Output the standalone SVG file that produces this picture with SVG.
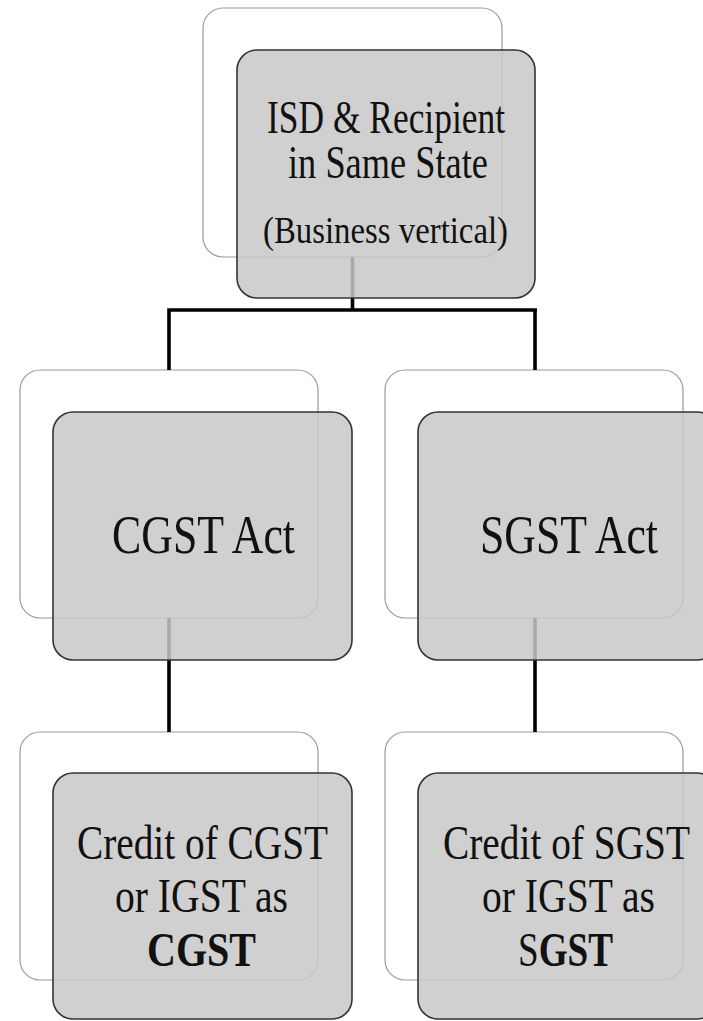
<svg xmlns="http://www.w3.org/2000/svg" width="703" height="1021" viewBox="0 0 703 1021">
<style>
.back{fill:#ffffff;stroke:#9a9a9a;stroke-width:1.2}
.front{fill:#c8c8c8;fill-opacity:0.85;stroke:#333333;stroke-width:1.6}
.conn{fill:none;stroke:#000000;stroke-width:3.6}
text{font-family:"Liberation Serif","Times New Roman",serif;fill:#111111;text-anchor:middle}
.b{font-weight:bold}
.n{font-weight:normal}
</style>
<rect width="703" height="1021" fill="#ffffff"/>
<g id="back-boxes">
<rect class="back" x="203" y="8" width="299" height="249" rx="20"/>
<rect class="back" x="20" y="370" width="298" height="248" rx="20"/>
<rect class="back" x="385" y="370" width="298" height="248" rx="20"/>
<rect class="back" x="20" y="732" width="298" height="248" rx="20"/>
<rect class="back" x="385" y="732" width="298" height="248" rx="20"/>
</g>
<g id="connectors">
<path class="conn" d="M352.5,257 V310 M168,310 H537 M169,308.2 V370 M535,308.2 V370"/>
<path class="conn" d="M169,618 V732"/>
<path class="conn" d="M535,618 V732"/>
</g>
<g id="node-isd">
<rect class="front" x="237" y="50" width="298" height="248" rx="20"/>
<text transform="translate(386,133) scale(1,1.3)" font-size="35.4" textLength="238" lengthAdjust="spacingAndGlyphs">ISD &amp; Recipient</text>
<text transform="translate(388,178) scale(1,1.2)" font-size="38" textLength="200" lengthAdjust="spacingAndGlyphs">in Same State</text>
<text transform="translate(385.5,243) scale(1,1.13)" font-size="32.8" textLength="245" lengthAdjust="spacingAndGlyphs">(Business vertical)</text>
</g>
<g id="node-cgst-act">
<rect class="front" x="53" y="412" width="299" height="248" rx="20"/>
<text transform="translate(203.5,553) scale(1,1.28)" font-size="43" textLength="183" lengthAdjust="spacingAndGlyphs">CGST Act</text>
</g>
<g id="node-sgst-act">
<rect class="front" x="418" y="412" width="299" height="248" rx="20"/>
<text transform="translate(569,553) scale(1,1.28)" font-size="43" textLength="178" lengthAdjust="spacingAndGlyphs">SGST Act</text>
</g>
<g id="node-credit-cgst">
<rect class="front" x="53" y="773" width="299" height="246" rx="20"/>
<text transform="translate(202.5,859) scale(1,1.22)" font-size="39.3" textLength="251" lengthAdjust="spacingAndGlyphs">Credit of CGST</text>
<text transform="translate(201.5,912) scale(1,1.22)" font-size="39.3" textLength="173" lengthAdjust="spacingAndGlyphs">or IGST as</text>
<text class="b" transform="translate(201.5,966) scale(1,1.22)" font-size="39.3" textLength="109" lengthAdjust="spacingAndGlyphs">CGST</text>
</g>
<g id="node-credit-sgst">
<rect class="front" x="418" y="773" width="299" height="246" rx="20"/>
<text transform="translate(566.5,859) scale(1,1.22)" font-size="39.3" textLength="247" lengthAdjust="spacingAndGlyphs">Credit of SGST</text>
<text transform="translate(568.5,912) scale(1,1.22)" font-size="39.3" textLength="173" lengthAdjust="spacingAndGlyphs">or IGST as</text>
<text transform="translate(565.5,966) scale(1,1.22)" font-size="39.3" textLength="95" lengthAdjust="spacingAndGlyphs">S<tspan class="b">GST</tspan></text>
</g>
</svg>
